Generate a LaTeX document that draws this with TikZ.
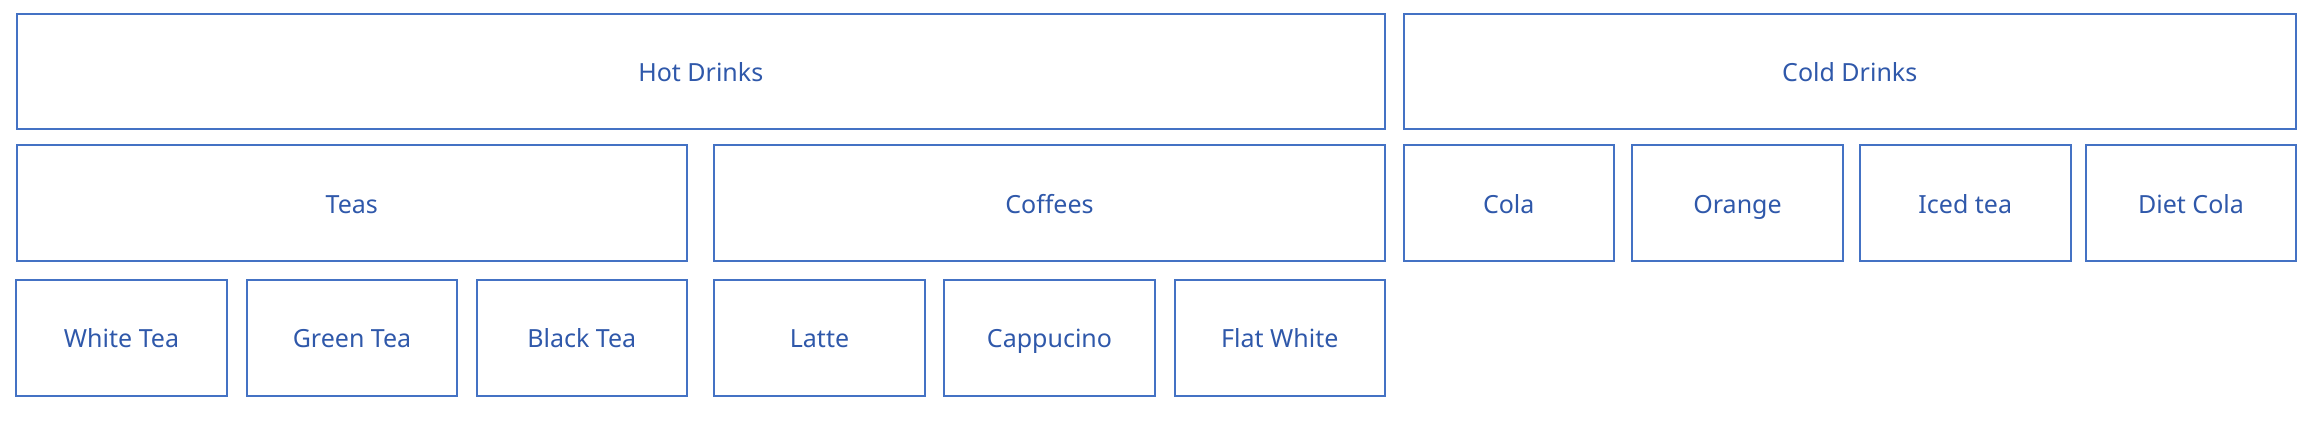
\documentclass[tikz,border=0pt]{standalone}
\usepackage{fontspec}
\setmainfont{Noto Sans}
\usepackage{xcolor}
\definecolor{boxblue}{HTML}{4472C4}
\definecolor{textblue}{HTML}{2F58AA}

\begin{document}
\begin{tikzpicture}[x=0.5pt, y=-0.5pt,
    cell/.style={draw=boxblue, line width=1pt, text=textblue, inner sep=0pt, outer sep=0pt,
      font=\fontsize{12.5pt}{15pt}\selectfont, text height=10.3pt, text depth=0pt, minimum height=58pt},
    leaf/.style={cell, minimum width=105.25pt}]
    \useasboundingbox (0,0) rectangle (2318,431);
    % top level
    \node[cell, minimum width=684.25pt, minimum height=57.5pt] (hot) at (700.75,71.5) {Hot Drinks};
    \node[cell, minimum width=446.25pt, minimum height=57.5pt] (cold) at (1849.75,71.5) {Cold Drinks};
    % second level
    \node[cell, minimum width=335.25pt] (teas) at (351.75,203) {Teas};
    \node[cell, minimum width=335.5pt] (coffees) at (1049.5,203) {Coffees};
    \node[leaf] (cola) at (1508.75,203) {Cola};
    \node[leaf] (orange) at (1737.5,203) {Orange};
    \node[leaf] (icedtea) at (1965.25,203) {Iced tea};
    \node[leaf] (dietcola) at (2191,203) {Diet Cola};
    % third level
    \node[leaf] (whitetea) at (121.5,337.7) {White Tea};
    \node[leaf] (greentea) at (352,337.7) {Green Tea};
    \node[leaf] (blacktea) at (581.75,337.7) {Black Tea};
    \node[leaf] (latte) at (819.5,337.7) {Latte};
    \node[leaf] (cappucino) at (1049.5,337.7) {Cappucino};
    \node[leaf] (flatwhite) at (1279.75,337.7) {Flat White};
\end{tikzpicture}
\end{document}
